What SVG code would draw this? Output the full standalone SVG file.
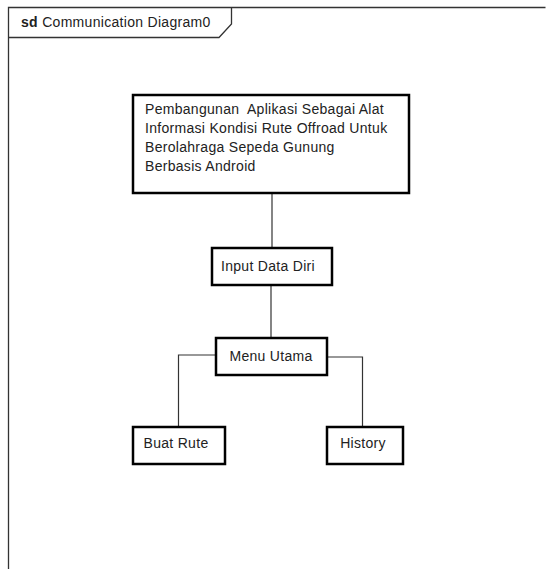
<svg xmlns="http://www.w3.org/2000/svg" width="546" height="569" viewBox="0 0 546 569">
<style>
text{font-family:"Liberation Sans",Arial,sans-serif;font-size:14px;letter-spacing:0.3px;fill:#222;white-space:pre}
.box{fill:#fff;stroke:#000;stroke-width:2.5}
.con{fill:none;stroke:#333;stroke-width:1.2}
.frame{fill:none;stroke:#333;stroke-width:1.3}
</style>
<rect width="546" height="569" fill="#fff"/>
<g id="frame">
<path class="frame" d="M8.5,569 V7.5 H545.5"/>
<path class="frame" d="M8.5,37.5 H219 L231.5,24 V7.5"/>
<text x="21" y="27"><tspan font-weight="bold">sd</tspan> Communication Diagram0</text>
</g>
<g id="connectors">
<path class="con" d="M272,193 V248"/>
<path class="con" d="M271,285 V338"/>
<path class="con" d="M216,355 H178.5 V427"/>
<path class="con" d="M327,357 H362.5 V427"/>
</g>
<g id="n_main">
<rect class="box" x="133" y="95" width="276" height="98"/>
<text x="145" y="114" xml:space="preserve">Pembangunan  Aplikasi Sebagai Alat</text>
<text x="145" y="133">Informasi Kondisi Rute Offroad Untuk</text>
<text x="145" y="152">Berolahraga Sepeda Gunung</text>
<text x="145" y="171">Berbasis Android</text>
</g>
<g id="n_input">
<rect class="box" x="212" y="248" width="120" height="37"/>
<text x="268" y="271" text-anchor="middle">Input Data Diri</text>
</g>
<g id="n_menu">
<rect class="box" x="216" y="338" width="111" height="37"/>
<text x="271" y="361" text-anchor="middle">Menu Utama</text>
</g>
<g id="n_buat">
<rect class="box" x="133" y="427" width="92" height="37"/>
<text x="176" y="448" text-anchor="middle">Buat Rute</text>
</g>
<g id="n_history">
<rect class="box" x="327" y="427" width="76" height="37"/>
<text x="363" y="448" text-anchor="middle">History</text>
</g>
</svg>
